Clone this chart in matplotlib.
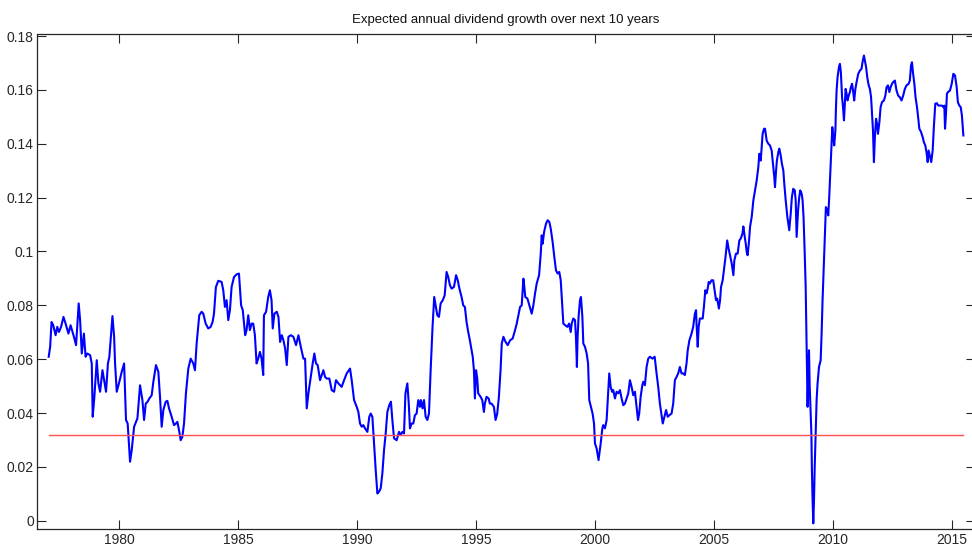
import matplotlib
matplotlib.use("Agg")
import matplotlib.pyplot as plt
from matplotlib import font_manager

## chart text
title = "Expected annual dividend growth over next 10 years"
xtick_years = [1980, 1985, 1990, 1995, 2000, 2005, 2010, 2015]
ytick_vals = [0, 0.02, 0.04, 0.06, 0.08, 0.1, 0.12, 0.14, 0.16, 0.18]
ytick_labels = ["0", "0.02", "0.04", "0.06", "0.08", "0.1", "0.12", "0.14", "0.16", "0.18"]

## long run average (red line)
avg_growth = 0.0318

## series (decimal year, growth)
years = [
  1977.03, 1977.09, 1977.15, 1977.22, 1977.32, 1977.39, 1977.46, 1977.55, 1977.65, 1977.74,
  1977.86, 1977.95, 1978.09, 1978.18, 1978.29, 1978.35, 1978.42, 1978.51, 1978.58, 1978.65,
  1978.77, 1978.84, 1978.88, 1978.95, 1979.05, 1979.12, 1979.19, 1979.29, 1979.36, 1979.44,
  1979.52, 1979.58, 1979.71, 1979.78, 1979.82, 1979.89, 1980.00, 1980.10, 1980.20, 1980.28,
  1980.35, 1980.45, 1980.52, 1980.62, 1980.76, 1980.87, 1980.97, 1981.04, 1981.11, 1981.19,
  1981.26, 1981.36, 1981.43, 1981.54, 1981.64, 1981.71, 1981.78, 1981.85, 1981.95, 1982.02,
  1982.09, 1982.20, 1982.30, 1982.38, 1982.44, 1982.51, 1982.58, 1982.65, 1982.72, 1982.80,
  1982.90, 1983.00, 1983.11, 1983.18, 1983.25, 1983.36,
  1983.46, 1983.53, 1983.63, 1983.74, 1983.84, 1983.92, 1983.98, 1984.06, 1984.16, 1984.30,
  1984.37, 1984.44, 1984.51, 1984.58, 1984.65, 1984.72, 1984.82, 1984.93, 1985.03, 1985.12,
  1985.19, 1985.29, 1985.35, 1985.42, 1985.49, 1985.56, 1985.63, 1985.70, 1985.77, 1985.84,
  1985.91, 1985.98, 1986.05, 1986.08, 1986.17, 1986.26, 1986.33, 1986.40, 1986.45, 1986.52,
  1986.62, 1986.69, 1986.76, 1986.83, 1986.90, 1986.97, 1987.04, 1987.11, 1987.21, 1987.32,
  1987.43, 1987.53, 1987.63, 1987.74, 1987.81, 1987.88, 1987.95, 1988.05, 1988.13, 1988.20,
  1988.27, 1988.34, 1988.44, 1988.51, 1988.58, 1988.65, 1988.72, 1988.83, 1988.93, 1989.03,
  1989.11, 1989.21, 1989.35, 1989.45, 1989.56, 1989.70,
  1989.77, 1989.87, 1989.98, 1990.05, 1990.12, 1990.19, 1990.26, 1990.33, 1990.43, 1990.51,
  1990.57, 1990.64, 1990.71, 1990.78, 1990.85, 1990.92, 1990.99, 1991.06, 1991.13, 1991.20,
  1991.27, 1991.35, 1991.42, 1991.48, 1991.55, 1991.66, 1991.76, 1991.83, 1991.90, 1991.97,
  1992.03, 1992.11, 1992.17, 1992.22, 1992.29, 1992.36, 1992.43, 1992.50, 1992.57, 1992.64,
  1992.68, 1992.75, 1992.81, 1992.88, 1992.95, 1993.02, 1993.09, 1993.17, 1993.24, 1993.31,
  1993.37, 1993.44, 1993.51, 1993.60, 1993.68, 1993.76, 1993.83, 1993.90, 1993.97, 1994.07,
  1994.16, 1994.23, 1994.30, 1994.39, 1994.46, 1994.53, 1994.60, 1994.67, 1994.74, 1994.81,
  1994.86, 1994.91, 1994.95, 1995.00, 1995.05, 1995.09, 1995.19, 1995.26, 1995.33, 1995.37,
  1995.44, 1995.53, 1995.58, 1995.65, 1995.75, 1995.82, 1995.89, 1995.96, 1996.03, 1996.08,
  1996.15, 1996.24, 1996.33, 1996.43, 1996.54, 1996.64, 1996.71, 1996.78, 1996.85,
  1996.92, 1996.99, 1997.03, 1997.07, 1997.16, 1997.24, 1997.34, 1997.41, 1997.48, 1997.55,
  1997.65, 1997.72, 1997.76, 1997.80, 1997.86, 1997.94, 1998.01, 1998.08, 1998.14, 1998.22,
  1998.29, 1998.36, 1998.43, 1998.50, 1998.56, 1998.61, 1998.67, 1998.75, 1998.84, 1998.91,
  1998.98, 1999.02, 1999.09, 1999.16, 1999.20, 1999.24, 1999.27, 1999.31, 1999.37, 1999.41,
  1999.47, 1999.51, 1999.58, 1999.65, 1999.71, 1999.76, 1999.83, 1999.90, 1999.96, 2000.00,
  2000.07, 2000.15, 2000.24, 2000.31, 2000.35, 2000.42, 2000.49, 2000.56, 2000.60, 2000.66,
  2000.72, 2000.77, 2000.84, 2000.91, 2000.98, 2001.05, 2001.12, 2001.19, 2001.26, 2001.33,
  2001.40, 2001.47, 2001.54, 2001.61, 2001.68, 2001.75, 2001.81, 2001.86, 2001.92, 2001.99,
  2002.03, 2002.10, 2002.17, 2002.24, 2002.31,
  2002.42, 2002.51, 2002.59, 2002.66, 2002.73, 2002.80, 2002.85, 2002.92, 2002.99, 2003.06,
  2003.13, 2003.22, 2003.29, 2003.36, 2003.43, 2003.50, 2003.57, 2003.64, 2003.71, 2003.78,
  2003.85, 2003.90, 2003.97, 2004.06, 2004.13, 2004.20, 2004.25, 2004.27, 2004.32, 2004.36,
  2004.41, 2004.53, 2004.58, 2004.64, 2004.69, 2004.74, 2004.78, 2004.83, 2004.90, 2004.97,
  2005.05, 2005.09, 2005.14, 2005.21, 2005.26, 2005.30, 2005.37, 2005.42, 2005.49, 2005.56,
  2005.62, 2005.68, 2005.75, 2005.82, 2005.86, 2005.93, 2006.00, 2006.07, 2006.13, 2006.20,
  2006.24, 2006.28, 2006.34, 2006.38, 2006.42, 2006.48, 2006.52, 2006.59, 2006.66, 2006.73,
  2006.80, 2006.87, 2006.91, 2006.97, 2007.01, 2007.05, 2007.11, 2007.15, 2007.22, 2007.29,
  2007.36, 2007.43, 2007.50, 2007.54, 2007.57, 2007.61, 2007.65, 2007.71, 2007.75, 2007.81,
  2007.86, 2007.92, 2007.96, 2008.02, 2008.09, 2008.13, 2008.17, 2008.23, 2008.28, 2008.34,
  2008.40, 2008.44, 2008.48, 2008.54, 2008.59, 2008.63, 2008.69, 2008.73, 2008.77, 2008.82,
  2008.86, 2008.89, 2008.91, 2008.94, 2008.97, 2009.00, 2009.03, 2009.05, 2009.10, 2009.12,
  2009.15, 2009.18, 2009.21, 2009.24, 2009.28, 2009.32, 2009.36, 2009.42, 2009.49, 2009.53,
  2009.57, 2009.63, 2009.67, 2009.71,
  2009.77, 2009.81, 2009.85, 2009.91, 2009.95, 2009.98, 2010.02, 2010.06, 2010.11, 2010.13,
  2010.16, 2010.20, 2010.26, 2010.30, 2010.34, 2010.39, 2010.43, 2010.47, 2010.50, 2010.54,
  2010.58, 2010.62, 2010.67, 2010.72, 2010.76, 2010.81, 2010.86, 2010.90, 2010.95, 2011.00,
  2011.07, 2011.14, 2011.21, 2011.25, 2011.31, 2011.35, 2011.40, 2011.45, 2011.51, 2011.56,
  2011.61, 2011.65, 2011.69, 2011.73, 2011.77, 2011.82, 2011.86, 2011.90, 2011.96, 2012.01,
  2012.07, 2012.15, 2012.21, 2012.26, 2012.32, 2012.38, 2012.43, 2012.49, 2012.54, 2012.61,
  2012.68, 2012.75, 2012.82, 2012.89, 2012.96, 2013.03, 2013.10, 2013.19, 2013.24, 2013.29,
  2013.33, 2013.37, 2013.43, 2013.48, 2013.55, 2013.60, 2013.64, 2013.71, 2013.78, 2013.83,
  2013.89, 2013.95, 2013.99, 2014.03, 2014.09, 2014.14, 2014.20, 2014.25, 2014.31, 2014.37,
  2014.44, 2014.51, 2014.59, 2014.65, 2014.69, 2014.72, 2014.76, 2014.80, 2014.84, 2014.93,
  2015.00, 2015.07, 2015.14, 2015.21, 2015.26, 2015.32, 2015.38, 2015.43, 2015.49,
]

growth = [
  0.0609, 0.0646, 0.0738, 0.0726, 0.0689, 0.0720, 0.0701, 0.0720, 0.0757, 0.0732,
  0.0695, 0.0726, 0.0683, 0.0652, 0.0807, 0.0745, 0.0621, 0.0695, 0.0609, 0.0621,
  0.0615, 0.0584, 0.0386, 0.0460, 0.0596, 0.0510, 0.0479, 0.0559, 0.0522, 0.0479,
  0.0584, 0.0609, 0.0760, 0.0683, 0.0584, 0.0479, 0.0516, 0.0553, 0.0584, 0.0374,
  0.0361, 0.0219, 0.0262, 0.0349, 0.0380, 0.0503, 0.0448, 0.0374, 0.0435, 0.0442,
  0.0454, 0.0466, 0.0516, 0.0578, 0.0553, 0.0460, 0.0349, 0.0411, 0.0442, 0.0445,
  0.0417, 0.0386, 0.0355, 0.0361, 0.0367, 0.0336, 0.0299, 0.0312, 0.0361, 0.0473,
  0.0565, 0.0602, 0.0584, 0.0559, 0.0658, 0.0763,
  0.0776, 0.0769, 0.0732, 0.0714, 0.0720, 0.0738, 0.0769, 0.0868, 0.0891, 0.0887,
  0.0856, 0.0794, 0.0819, 0.0745, 0.0782, 0.0868, 0.0905, 0.0915, 0.0918, 0.0800,
  0.0782, 0.0689, 0.0708, 0.0763, 0.0708, 0.0732, 0.0732, 0.0689, 0.0584, 0.0602,
  0.0627, 0.0602, 0.0541, 0.0763, 0.0776, 0.0831, 0.0856, 0.0819, 0.0714, 0.0769,
  0.0776, 0.0757, 0.0664, 0.0689, 0.0670, 0.0640, 0.0578, 0.0683, 0.0689, 0.0683,
  0.0652, 0.0689, 0.0646, 0.0602, 0.0602, 0.0417, 0.0473, 0.0534, 0.0584, 0.0621,
  0.0584, 0.0578, 0.0522, 0.0541, 0.0559, 0.0534, 0.0528, 0.0528, 0.0485, 0.0479,
  0.0522, 0.0510, 0.0497, 0.0522, 0.0547, 0.0565,
  0.0522, 0.0448, 0.0423, 0.0404, 0.0361, 0.0349, 0.0355, 0.0343, 0.0330, 0.0386,
  0.0398, 0.0386, 0.0287, 0.0188, 0.0101, 0.0108, 0.0120, 0.0176, 0.0262, 0.0324,
  0.0404, 0.0429, 0.0442, 0.0374, 0.0306, 0.0299, 0.0330, 0.0318, 0.0330, 0.0324,
  0.0473, 0.0510, 0.0435, 0.0343, 0.0361, 0.0361, 0.0392, 0.0398, 0.0448, 0.0423,
  0.0448, 0.0417, 0.0448, 0.0386, 0.0374, 0.0398, 0.0559, 0.0720, 0.0831, 0.0794,
  0.0763, 0.0757, 0.0807, 0.0819, 0.0837, 0.0924, 0.0905, 0.0875, 0.0862, 0.0868,
  0.0912, 0.0893, 0.0862, 0.0831, 0.0800, 0.0794, 0.0738, 0.0701, 0.0670, 0.0633,
  0.0609, 0.0559, 0.0454, 0.0559, 0.0528, 0.0473, 0.0460, 0.0448, 0.0404, 0.0435,
  0.0460, 0.0454, 0.0435, 0.0435, 0.0423, 0.0374, 0.0398, 0.0460, 0.0559, 0.0658,
  0.0683, 0.0664, 0.0652, 0.0670, 0.0677, 0.0708, 0.0732, 0.0763, 0.0794,
  0.0800, 0.0899, 0.0868, 0.0831, 0.0825, 0.0800, 0.0769, 0.0800, 0.0844, 0.0881,
  0.0912, 0.0992, 0.1060, 0.1029, 0.1072, 0.1103, 0.1116, 0.1110, 0.1085, 0.1035,
  0.0980, 0.0930, 0.0918, 0.0924, 0.0893, 0.0819, 0.0732, 0.0726, 0.0720, 0.0732,
  0.0701, 0.0732, 0.0751, 0.0745, 0.0683, 0.0571, 0.0683, 0.0757, 0.0819, 0.0831,
  0.0757, 0.0658, 0.0646, 0.0621, 0.0584, 0.0448, 0.0423, 0.0398, 0.0361, 0.0287,
  0.0268, 0.0225, 0.0287, 0.0343, 0.0355, 0.0343, 0.0374, 0.0485, 0.0547, 0.0497,
  0.0479, 0.0485, 0.0454, 0.0479, 0.0473, 0.0485, 0.0454, 0.0429, 0.0435, 0.0454,
  0.0473, 0.0522, 0.0497, 0.0466, 0.0479, 0.0423, 0.0374, 0.0398, 0.0460, 0.0503,
  0.0516, 0.0503, 0.0571, 0.0602, 0.0609,
  0.0602, 0.0609, 0.0547, 0.0497, 0.0435, 0.0392, 0.0361, 0.0386, 0.0411, 0.0386,
  0.0392, 0.0398, 0.0435, 0.0522, 0.0534, 0.0547, 0.0571, 0.0547, 0.0547, 0.0541,
  0.0584, 0.0633, 0.0670, 0.0695, 0.0720, 0.0769, 0.0782, 0.0732, 0.0646, 0.0720,
  0.0751, 0.0751, 0.0794, 0.0856, 0.0844, 0.0862, 0.0887, 0.0881, 0.0893, 0.0893,
  0.0844, 0.0819, 0.0825, 0.0788, 0.0819, 0.0868, 0.0893, 0.0930, 0.0980, 0.1041,
  0.1010, 0.0986, 0.0955, 0.0912, 0.0967, 0.0992, 0.0992, 0.1041, 0.1048, 0.1066,
  0.1093, 0.1066, 0.1029, 0.0998, 0.0986, 0.1041, 0.1091, 0.1128, 0.1190, 0.1227,
  0.1264, 0.1314, 0.1363, 0.1338, 0.1388, 0.1437, 0.1456, 0.1456, 0.1412, 0.1400,
  0.1394, 0.1375, 0.1314, 0.1276, 0.1239, 0.1295, 0.1338, 0.1369, 0.1382, 0.1357,
  0.1326, 0.1301, 0.1252, 0.1190, 0.1128, 0.1103, 0.1079, 0.1140, 0.1202, 0.1233,
  0.1227, 0.1190, 0.1054, 0.1153, 0.1202, 0.1227, 0.1215, 0.1190, 0.1128, 0.0992,
  0.0868, 0.0695, 0.0571, 0.0423, 0.0547, 0.0633, 0.0497, 0.0448, 0.0324, 0.0200,
  0.0077, -0.0010, 0.0077, 0.0200, 0.0324, 0.0448, 0.0510, 0.0571, 0.0596, 0.0695,
  0.0819, 0.0967, 0.1066, 0.1165,
  0.1153, 0.1134, 0.1202, 0.1326, 0.1400, 0.1462, 0.1425, 0.1394, 0.1450, 0.1524,
  0.1598, 0.1647, 0.1685, 0.1697, 0.1666, 0.1573, 0.1536, 0.1487, 0.1536, 0.1604,
  0.1586, 0.1561, 0.1579, 0.1592, 0.1610, 0.1623, 0.1592, 0.1561, 0.1604, 0.1629,
  0.1660, 0.1672, 0.1679, 0.1703, 0.1728, 0.1709, 0.1685, 0.1647, 0.1617, 0.1604,
  0.1573, 0.1511, 0.1450, 0.1332, 0.1425, 0.1493, 0.1474, 0.1437, 0.1481, 0.1536,
  0.1555, 0.1561, 0.1579, 0.1610, 0.1617, 0.1592, 0.1610, 0.1623, 0.1629, 0.1635,
  0.1598, 0.1579, 0.1573, 0.1561, 0.1579, 0.1604, 0.1617, 0.1623, 0.1635, 0.1691,
  0.1703, 0.1666, 0.1623, 0.1573, 0.1530, 0.1487, 0.1456, 0.1444, 0.1425, 0.1406,
  0.1394, 0.1363, 0.1332, 0.1375, 0.1351, 0.1332, 0.1375, 0.1462, 0.1549, 0.1551,
  0.1542, 0.1542, 0.1542, 0.1536, 0.1542, 0.1456, 0.1511, 0.1586, 0.1592, 0.1598,
  0.1623, 0.1660, 0.1654, 0.1610, 0.1555, 0.1542, 0.1536, 0.1505, 0.1431,
]

## narrow font like the matlab export, if there is one
names = set(f.name for f in font_manager.fontManager.ttflist)
if "Liberation Sans Narrow" in names:
  fam = ["Liberation Sans Narrow", "DejaVu Sans"]
  fs = 11.5
else:
  fam = ["Liberation Sans", "DejaVu Sans"]
  fs = 10
plt.rcParams['font.family'] = fam

fig = plt.figure(figsize=(9.72, 5.53), dpi=100)
ax = fig.add_axes([37.3/972, 23.7/553, (975-37.3)/972, (529.3-34.5)/553])

ax.plot(years, growth, color=(0, 0, 1), lw=1.5)
ax.plot([years[0], years[-1]], [avg_growth, avg_growth], color="#ff5050", lw=1.0)

ax.set_xlim(1976.55, 2015.98)
ax.set_ylim(-0.0032, 0.1806)
ax.set_xticks(xtick_years)
ax.set_xticklabels([str(y) for y in xtick_years])
ax.set_yticks(ytick_vals)
ax.set_yticklabels(ytick_labels)
ax.tick_params(direction='in', length=6.5, width=0.8, top=True, right=True,
               labelsize=fs, colors='#262626', pad=3)
ax.tick_params(axis='y', pad=2.5)
for s in ax.spines.values():
  s.set_linewidth(0.9)
  s.set_color('#262626')

ax.set_title(title, fontsize=fs - 0.5, color='#111111', pad=8)

fig.savefig("out.png", dpi=100)
